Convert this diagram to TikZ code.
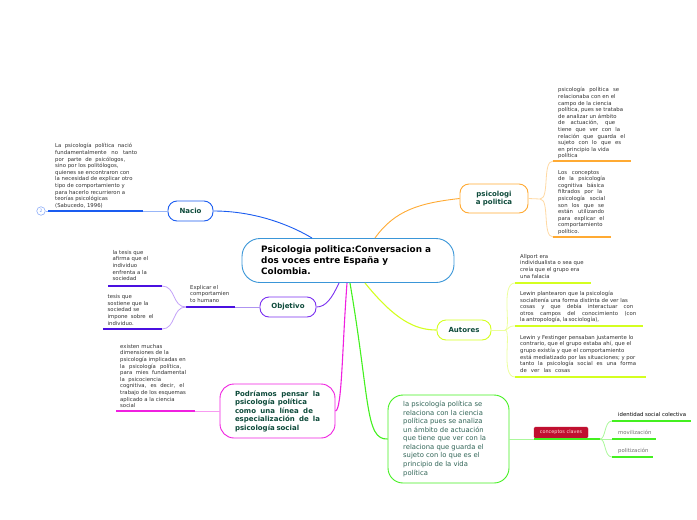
\documentclass[tikz,border=0pt]{standalone}
\usepackage{fontspec}
\setmainfont{DejaVu Sans}
\definecolor{cblue}{HTML}{3A96D8}
\definecolor{nblue}{HTML}{1A5CF0}
\definecolor{npurple}{HTML}{7A30F0}
\definecolor{dpurple}{HTML}{4A10E0}
\definecolor{nmag}{HTML}{F020E0}
\definecolor{nora}{HTML}{FFAA33}
\definecolor{nyel}{HTML}{D4FF20}
\definecolor{ngreen}{HTML}{44F020}
\definecolor{lab}{HTML}{0D4A3A}
\definecolor{smalltxt}{HTML}{303030}
\definecolor{cred}{HTML}{C01030}
\newcommand{\jl}[2]{\makebox[#1][s]{#2}}
\tikzset{
 txt/.style={anchor=north west,inner sep=0pt,text=smalltxt,align=left,font=\fontsize{5.35}{6.6}\selectfont},
 topicbox/.style={draw=#1,line width=0.9pt,rounded corners=9pt,fill=white,inner sep=0pt,text=lab,align=center,font=\fontsize{7}{8.5}\selectfont\bfseries},
 thickln/.style={color=#1,line width=1.2pt},
 lightln/.style={color=#1!45!white,line width=0.8pt},
 mainln/.style={color=#1,line width=0.9pt}
}
\begin{document}
\begin{tikzpicture}[x=1pt,y=-1pt]
\useasboundingbox (0,0) rectangle (697,520);
% coordinates
\coordinate (cN) at (312,238);
\coordinate (cO) at (339,283);
\coordinate (cP) at (347,283);
\coordinate (cG) at (350,283);
\coordinate (cA) at (365,283);
\coordinate (cR) at (375,238);
\coordinate (nacA) at (143,211);\coordinate (nacB) at (48,211);
\coordinate (objA) at (235,307);\coordinate (objB) at (186,307);
\coordinate (t1a) at (162,286);\coordinate (t1b) at (108,286);
\coordinate (t2a) at (162,329);\coordinate (t2b) at (103,329);
\coordinate (podA) at (195,411);\coordinate (podB) at (116,411);
\coordinate (psJ) at (540,199);
\coordinate (p1a) at (553,161);\coordinate (p1b) at (631,161);
\coordinate (p2a) at (553,237);\coordinate (p2b) at (611,237);
\coordinate (auJ) at (505,330);
\coordinate (a1a) at (515,283);\coordinate (a1b) at (591,283);
\coordinate (a2a) at (515,326);\coordinate (a2b) at (643,326);
\coordinate (a3a) at (515,377);\coordinate (a3b) at (646,377);
\coordinate (grA) at (534,439);\coordinate (grB) at (600,439);
\coordinate (k1a) at (612,421);\coordinate (k1b) at (691,421);
\coordinate (k2a) at (612,439);\coordinate (k2b) at (656,439);
\coordinate (k3a) at (612,457);\coordinate (k3b) at (653,457);
% nodes
\node[draw=cblue,line width=0.9pt,rounded corners=18pt,fill=white,minimum width=212pt,minimum height=44pt] (central) at (348,260.5) {};
\node[anchor=west,inner sep=0pt,align=left,text=black,font=\fontsize{8.85}{11}\selectfont\bfseries] (ctext) at (261,260.5) {Psicologia politica:Conversacion a\\dos voces entre España y\\Colombia.};
\node[topicbox=nblue,minimum width=45pt,minimum height=20pt] (nacio) at (190.5,211) {Nacio};
\node[topicbox=npurple,minimum width=56pt,minimum height=20pt] (objetivo) at (288,307) {Objetivo};
\node[topicbox=nora,minimum width=68pt,minimum height=29pt] (psico) at (494,198.5) {psicologi\\a politica};
\node[topicbox=nyel,minimum width=54pt,minimum height=20pt] (autores) at (464,330) {Autores};
\node[topicbox=nmag,minimum width=115pt,minimum height=54pt,rounded corners=14pt,align=left] (podr) at (277.5,411) {\jl{85pt}{Podríamos pensar la}\\\jl{72pt}{psicología política}\\\jl{78pt}{como una línea de}\\\jl{85pt}{especialización de la}\\\jl{64pt}{psicología social}};
\node[draw=ngreen,line width=0.9pt,rounded corners=15pt,fill=white,minimum width=121pt,minimum height=88pt,inner sep=0pt] (gbox) at (448.5,439) {};
\node[anchor=north west,inner sep=0pt,align=left,text=lab!85!white,font=\fontsize{6.8}{8.55}\selectfont] (gtext) at (403,401) {la psicología política se\\relaciona con la ciencia\\política pues se analiza\\un ámbito de actuación\\que tiene que ver con la\\relaciona que guarda el\\sujeto con lo que es el\\principio de la vida\\política};
\node[draw=cred,fill=cred,rounded corners=1.5pt,inner sep=0pt,minimum width=54pt,minimum height=11pt,text=white!85!red,font=\fontsize{4.9}{5}\selectfont] (clave) at (561,432.5) {conceptos claves};
\node[draw=nblue!50!white,line width=0.6pt,circle,inner sep=0pt,minimum size=8.5pt,text=nblue!60!white,font=\fontsize{4.5}{5}\selectfont] (num) at (41,211) {2};
% main connectors
\draw[mainln=nblue] (nacio.east) .. controls (250,211) and (285,222) .. (cN);
\draw[mainln=nora] (psico.west) .. controls (420,203) and (395,210) .. (cR);
\draw[mainln=npurple] (objetivo.east) .. controls (326,307) and (332,298) .. (cO);
\draw[mainln=nmag,line width=1.1pt] (podr.east) .. controls (342,410) and (342,350) .. (cP);
\draw[mainln=ngreen,line width=1.1pt] (gbox.west) .. controls (365,440) and (370,400) .. (cG);
\draw[mainln=nyel,line width=1.1pt] (autores.west) .. controls (415,330) and (395,320) .. (cA);
% left
\draw[lightln=nblue] (nacio.west) -- (nacA);
\draw[thickln=nblue] (nacA) -- (nacB);
\draw[lightln=nblue] (nacB) -- (num.east);
\draw[lightln=dpurple] (objetivo.west) -- (objA);
\draw[thickln=dpurple] (objA) -- (objB);
\draw[lightln=npurple] (objB) .. controls (172,307) and (176,286) .. (t1a);
\draw[lightln=npurple] (objB) .. controls (172,307) and (176,329) .. (t2a);
\draw[thickln=dpurple] (t1a) -- (t1b);
\draw[thickln=dpurple] (t2a) -- (t2b);
\draw[lightln=nmag] (podr.west) -- (podA);
\draw[thickln=nmag] (podA) -- (podB);
% psico
\draw[lightln=nora] (psico.east) -- (psJ);
\draw[lightln=nora] (psJ) .. controls (550,199) and (542,161) .. (p1a);
\draw[lightln=nora] (psJ) .. controls (550,199) and (542,237) .. (p2a);
\draw[thickln=nora] (p1a) -- (p1b);
\draw[thickln=nora] (p2a) -- (p2b);
% autores
\draw[lightln=nyel] (autores.east) -- (auJ);
\draw[lightln=nyel] (auJ) .. controls (512,330) and (500,283) .. (a1a);
\draw[lightln=nyel] (auJ) .. controls (510,329) and (507,326) .. (a2a);
\draw[lightln=nyel] (auJ) .. controls (512,330) and (500,377) .. (a3a);
\draw[thickln=nyel] (a1a) -- (a1b);
\draw[thickln=nyel] (a2a) -- (a2b);
\draw[thickln=nyel] (a3a) -- (a3b);
% green
\draw[lightln=ngreen] (gbox.east) -- (grA);
\draw[thickln=ngreen] (grA) -- (grB);
\draw[lightln=ngreen] (grB) .. controls (606,439) and (604,421) .. (k1a);
\draw[lightln=ngreen] (grB) -- (k2a);
\draw[lightln=ngreen] (grB) .. controls (606,439) and (604,457) .. (k3a);
\draw[thickln=ngreen] (k1a) -- (k1b);
\draw[thickln=ngreen] (k2a) -- (k2b);
\draw[thickln=ngreen] (k3a) -- (k3b);
% small texts
\node[txt] (t1) at (55,143.5) {\jl{77pt}{La psicología política nació}\\\jl{82pt}{fundamentalmente no tanto}\\\jl{70pt}{por parte de psicólogos,}\\sino por los politólogos,\\quienes se encontraron con\\la necesidad de explicar otro\\tipo de comportamiento y\\para hacerlo recurrieron a\\teorías psicológicas\\(Sabucedo, 1996)};
\node[txt] (t2) at (112.5,250) {la tesis que\\afirma que el\\individuo\\enfrenta a la\\sociedad};
\node[txt] (t3) at (107.5,294.5) {tesis que\\sostiene que la\\sociedad se\\\jl{46pt}{impone sobre el}\\individuo.};
\node[txt] (t4) at (190,285) {Explicar el\\comportamien\\to humano};
\node[txt] (t5) at (120,344) {existen muchas\\dimensiones de la\\psicología implicadas en\\\jl{61pt}{la psicología política,}\\\jl{66pt}{para mies fundamental}\\\jl{41pt}{la psicociencia}\\\jl{64pt}{cognitiva, es decir, el}\\trabajo de los esquemas\\aplicado a la ciencia\\social};
\node[txt] (t6) at (558,87.5) {\jl{61pt}{psicología política se}\\relacionaba con en el\\campo de la ciencia\\política, pues se trataba\\de analizar un ámbito\\\jl{57pt}{de actuación, que}\\\jl{62pt}{tiene que ver con la}\\\jl{67pt}{relación que guarda el}\\\jl{63pt}{sujeto con lo que es}\\en principio la vida\\política};
\node[txt] (t7) at (558,170) {\jl{41pt}{Los conceptos}\\\jl{47pt}{de la psicología}\\\jl{46pt}{cognitiva básica}\\\jl{44pt}{filtrados por la}\\\jl{47pt}{psicología social}\\\jl{46pt}{son los que se}\\\jl{46pt}{están utilizando}\\\jl{46pt}{para explicar el}\\comportamiento\\político.};
\node[txt] (t8) at (520,254) {Allport era\\individualista o sea que\\creía que el grupo era\\una falacia};
\node[txt] (t9) at (520,291) {Lewin plantearon que la psicología\\socialtenía una forma distinta de ver las\\\jl{113pt}{cosas y que debía interactuar con}\\\jl{116pt}{otros campos del conocimiento (con}\\\jl{78pt}{la antropología, la sociología),}};
\node[txt] (t10) at (520,335) {Lewin y Festinger pensaban justamente lo\\contrario, que el grupo estaba ahí, que el\\grupo existía y que el comportamiento\\está mediatizado por las situaciones; y por\\\jl{116pt}{tanto la psicología social es una forma}\\\jl{50pt}{de ver las cosas}};
\node[txt,text=black] (t11) at (618,412) {identidad social colectiva};
\node[txt,text=smalltxt!70!white] (t12) at (618,430) {movilización};
\node[txt,text=smalltxt!70!white] (t13) at (618,448) {politización};
\end{tikzpicture}
\end{document}
